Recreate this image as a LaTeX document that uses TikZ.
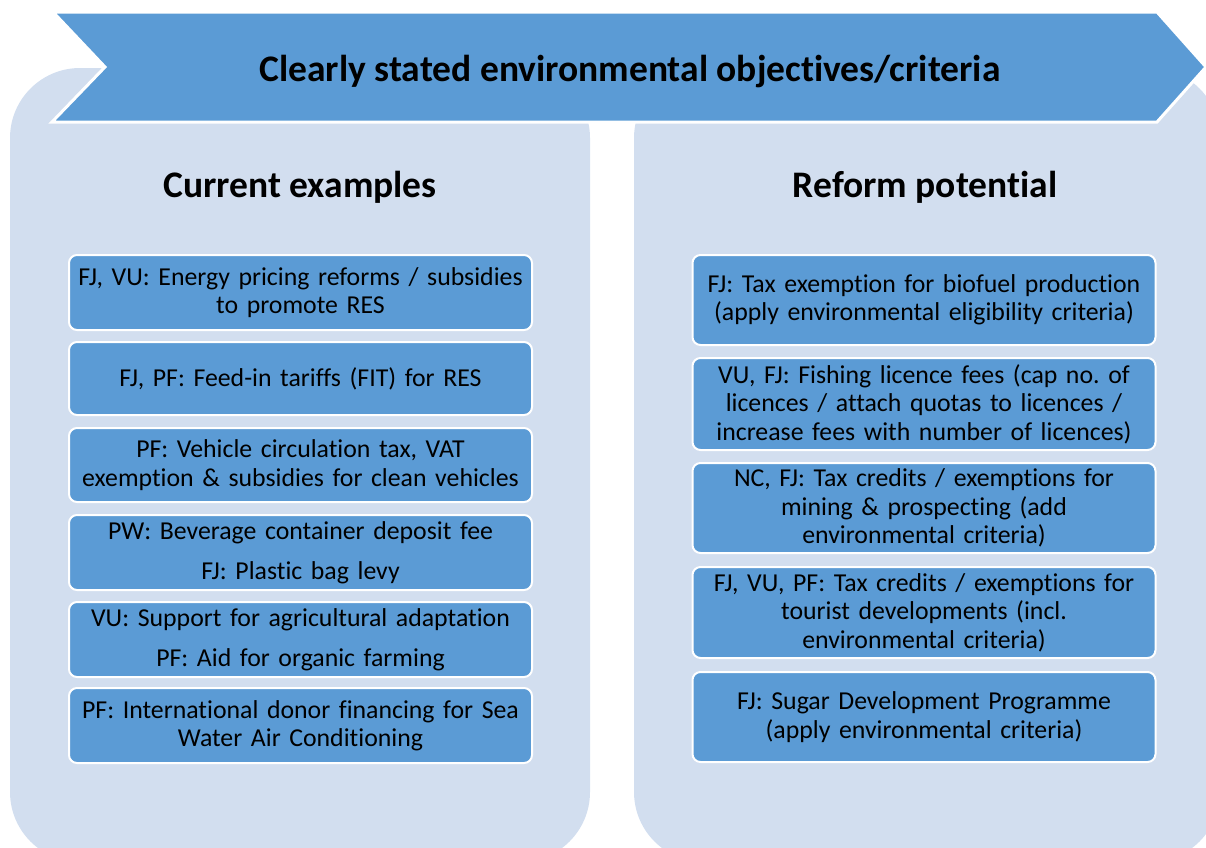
\documentclass[tikz,border=0pt]{standalone}
\usepackage{fontspec}
\setmainfont{Carlito}[Ligatures=NoCommon]
\hyphenpenalty=10000
\exhyphenpenalty=10000
\definecolor{accentblue}{HTML}{5B9BD5}
\definecolor{panelblue}{HTML}{D2DEEF}

\begin{document}
\begin{tikzpicture}[x=1pt,y=-1pt,
	panel/.style={fill=panelblue,rounded corners=70pt},
	itembox/.style={draw=white,line width=2pt,fill=accentblue,rounded corners=8pt,minimum width=463pt,text width=460pt,align=center,inner sep=0pt,font=\fontsize{25.8}{28.5}\selectfont},
	heading/.style={font=\fontsize{37.5}{44}\selectfont\bfseries}]
		\useasboundingbox (0,0) rectangle (1206,847) ;
		% the two columns
		\fill[panel] (10,68) rectangle (590,862) ;
		\fill[panel] (634,68) rectangle (1220,862) ;
		% banner
		\filldraw[fill=accentblue,draw=white,line width=3pt] (53,12) -- (1157,12) -- (1206,67) -- (1157,122) -- (52,122) -- (105,67) -- cycle ;
		\node[heading] (title) at (630,72) {Clearly stated environmental objectives/criteria} ;
		\node[heading] (current) at (300,187.5) {Current examples} ;
		\node[heading] (reform) at (925,187.5) {Reform potential} ;
		% current examples
		\node[itembox,minimum height=75pt] (cur1) at (300.5,292.5) {FJ, VU: Energy pricing reforms / subsidies\\ to promote RES} ;
		\node[itembox,minimum height=73pt] (cur2) at (300.5,378.5) {FJ, PF: Feed-in tariffs (FIT) for RES} ;
		\node[itembox,minimum height=74pt] (cur3) at (300.5,465) {PF: Vehicle circulation tax, VAT\\ exemption \& subsidies for clean vehicles} ;
		\node[itembox,minimum height=75pt] (cur4) at (300.5,552.5) {PW: Beverage container deposit fee\\[12pt]FJ: Plastic bag levy} ;
		\node[itembox,minimum height=75pt] (cur5) at (300.5,639.5) {VU: Support for agricultural adaptation\\[12pt]PF: Aid for organic farming} ;
		\node[itembox,minimum height=75pt] (cur6) at (300.5,725.5) {PF: International donor financing for Sea\\ Water Air Conditioning} ;
		% reform potential
		\node[itembox,minimum height=90pt] (ref1) at (924,300) {FJ: Tax exemption for biofuel production\\ (apply environmental eligibility criteria)} ;
		\node[itembox,minimum height=92pt] (ref2) at (924,404) {VU, FJ: Fishing licence fees (cap no.\ of\\ licences / attach quotas to licences /\\ increase fees with number of licences)} ;
		\node[itembox,minimum height=90pt] (ref3) at (924,508) {NC, FJ: Tax credits / exemptions for\\ mining \& prospecting (add\\ environmental criteria)} ;
		\node[itembox,minimum height=91pt] (ref4) at (924,612.5) {FJ, VU, PF: Tax credits / exemptions for\\ tourist developments (incl.\\ environmental criteria)} ;
		\node[itembox,minimum height=90pt] (ref5) at (924,717) {FJ: Sugar Development Programme\\ (apply environmental criteria)} ;
\end{tikzpicture}
\end{document}
